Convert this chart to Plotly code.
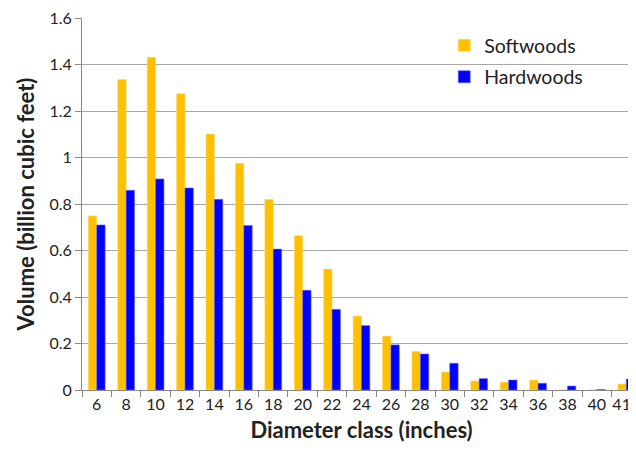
import plotly.graph_objects as go

categories = ["6", "8", "10", "12", "14", "16", "18", "20", "22", "24",
              "26", "28", "30", "32", "34", "36", "38", "40", "41+"]
softwoods = [0.748, 1.336, 1.431, 1.274, 1.101, 0.975, 0.819, 0.664, 0.520, 0.318,
             0.232, 0.166, 0.077, 0.039, 0.034, 0.043, 0.0, 0.0, 0.026]
hardwoods = [0.710, 0.859, 0.908, 0.869, 0.820, 0.708, 0.606, 0.429, 0.347, 0.277,
             0.194, 0.155, 0.115, 0.049, 0.043, 0.029, 0.017, 0.002, 0.047]
ytick_vals = [0, 0.2, 0.4, 0.6, 0.8, 1.0, 1.2, 1.4, 1.6]
ytick_text = ["0", "0.2", "0.4", "0.6", "0.8", "1", "1.2", "1.4", "1.6"]

FONT = "Lato, 'Open Sans', sans-serif"

fig = go.Figure()
fig.add_trace(go.Bar(x=categories, y=softwoods, name="Softwoods", legendgroup="s",
                     marker=dict(color="#FFC000", line=dict(color="#FFD966", width=0.6))))
fig.add_trace(go.Bar(x=categories, y=hardwoods, name="Hardwoods", legendgroup="h",
                     marker=dict(color="#0000FF", line=dict(color="#6666FF", width=0.6))))

fig.update_layout(
    width=636, height=455,
    margin=dict(l=74, r=3, t=10, b=73, autoexpand=False),
    paper_bgcolor="white", plot_bgcolor="white",
    barmode="group", bargap=0.43, bargroupgap=0,
    font=dict(family=FONT, size=16, color="#222222"),
    legend=dict(x=0.648, y=0.978, xanchor="left", yanchor="top",
                font=dict(size=19.5, color="#222222"), tracegroupgap=3,
                itemwidth=30, bgcolor="rgba(0,0,0,0)"),
    showlegend=True,
)
fig.update_xaxes(
    type="category", range=[-0.5, 18.5], automargin=False,
    showline=True, linecolor="#888888", linewidth=1,
    ticks="outside", tickson="boundaries", ticklen=6, tickcolor="#888888",
    tickfont=dict(size=16), tickangle=0, showgrid=False,
    title=dict(text="<b>Diameter class (inches)</b>", font=dict(size=22), standoff=10),
)
fig.update_yaxes(
    range=[0, 1.6002], tickvals=ytick_vals, ticktext=ytick_text, automargin=False,
    ticklabeloverflow="allow",
    showline=True, linecolor="#888888", linewidth=1,
    ticks="outside", ticklen=6, tickcolor="#888888",
    showgrid=True, gridcolor="#a6a6a6", gridwidth=1,
    zeroline=False, tickfont=dict(size=16),
    title=dict(text="<b>Volume (billion cubic feet)</b>", font=dict(size=22), standoff=8),
)

fig.write_html("out.html")
